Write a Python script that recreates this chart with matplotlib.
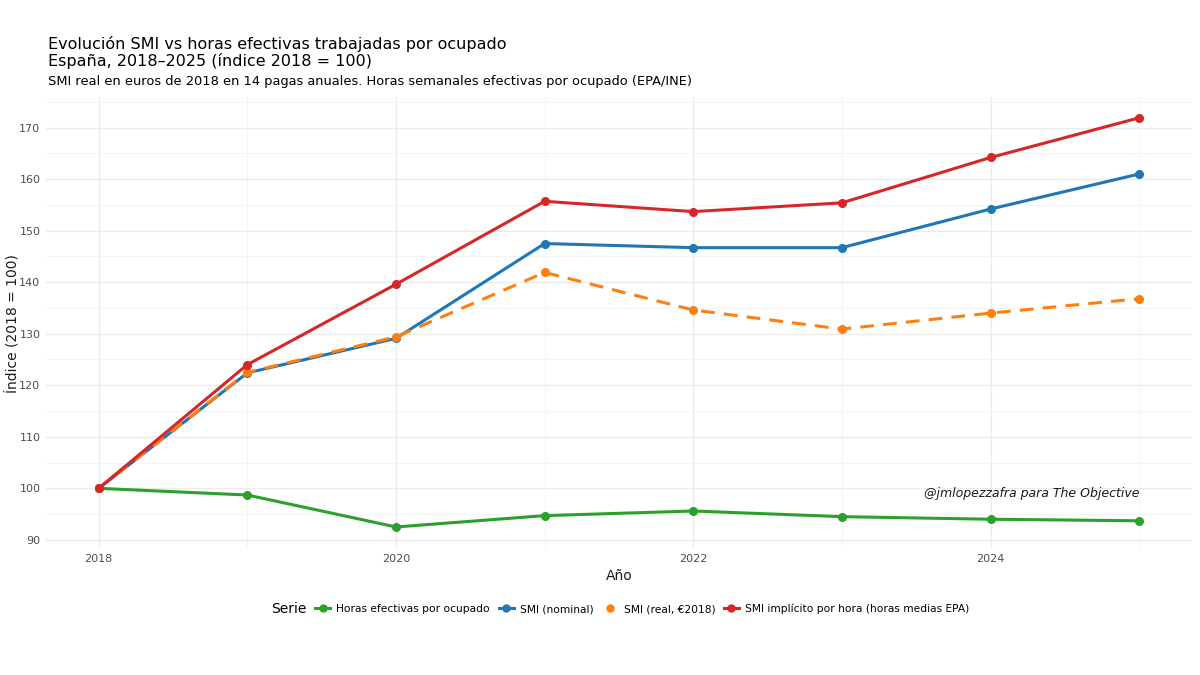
import matplotlib
matplotlib.use('Agg')
import matplotlib.pyplot as plt
from matplotlib.lines import Line2D
from matplotlib.offsetbox import HPacker

years = [2018, 2019, 2020, 2021, 2022, 2023, 2024, 2025]
horas = [100.0, 98.7, 92.5, 94.7, 95.6, 94.5, 94.0, 93.7]
smi_nominal = [100.0, 122.4, 129.1, 147.5, 146.7, 146.7, 154.2, 161.0]
smi_real = [100.0, 122.5, 129.4, 141.9, 134.6, 130.9, 134.0, 136.8]
smi_hora = [100.0, 124.0, 139.6, 155.7, 153.7, 155.4, 164.2, 171.9]

labels = ['Horas efectivas por ocupado', 'SMI (nominal)', 'SMI (real, €2018)',
          'SMI implícito por hora (horas medias EPA)']
colors = ['#2ca02c', '#1f77b4', '#ff7f0e', '#d62728']
styles = ['-', '-', '--', '-']

plt.rcParams['font.family'] = ['DejaVu Sans']

fig = plt.figure(figsize=(12, 6.75), dpi=100)
ax = fig.add_axes([0.0383, 0.188, 0.955, 0.668])

series = [horas, smi_nominal, smi_real, smi_hora]
for vals, col, ls in zip(series, colors, styles):
    line, = ax.plot(years, vals, color=col, lw=2.2, ls=ls, marker='o', ms=5.5,
                    solid_capstyle='butt')
    if ls == '--':
        line.set_dashes((4.5, 3))

ax.set_xlim(2017.645, 2025.355)
ax.set_ylim(88.4, 175.9)
ax.set_xticks([2018, 2020, 2022, 2024])
ax.set_xticks([2019, 2021, 2023, 2025], minor=True)
ax.set_yticks(range(90, 171, 10))
ax.set_yticks(range(95, 176, 10), minor=True)
ax.grid(True, which='major', color='#ebebeb', lw=1.0)
ax.grid(True, which='minor', color='#f2f2f2', lw=0.6)
ax.set_axisbelow(True)
for s in ax.spines.values():
    s.set_visible(False)
ax.tick_params(which='both', length=0, labelsize=8, labelcolor='#4d4d4d', pad=4)

ax.set_xlabel('Año', fontsize=10, color='#1a1a1a', labelpad=4)
fig.text(0.010, 0.52, 'Índice (2018 = 100)', fontsize=10, color='#1a1a1a',
         rotation=90, ha='center', va='center')

ax.text(2025, 99, '@jmlopezzafra para The Objective', ha='right', va='center',
        fontsize=9, style='italic', color='#1a1a1a')

fig.text(0.040, 0.947, 'Evolución SMI vs horas efectivas trabajadas por ocupado\n'
         'España, 2018–2025 (índice 2018 = 100)', fontsize=11.5, va='top',
         ha='left', linespacing=1.1, color='black')
fig.text(0.040, 0.879, 'SMI real en euros de 2018 en 14 pagas anuales. '
         'Horas semanales efectivas por ocupado (EPA/INE)', fontsize=9.4,
         va='center', ha='left', color='black')

handles = [Line2D([0], [0], color=c, lw=2.2, ls='-', marker='o', ms=5)
           for c in colors]
handles[2] = Line2D([0], [0], color=colors[2], lw=0, marker='o', ms=5)
leg = fig.legend(handles, labels, loc='center', bbox_to_anchor=(0.517, 0.098),
                 ncol=4, frameon=False, fontsize=7.7, handlelength=1.4,
                 columnspacing=0.8, handletextpad=0.6, title='Serie',
                 title_fontsize=10)
# put the legend title to the left of the entries
title_box = leg._legend_title_box
entries = leg._legend_handle_box
leg._legend_box._children = [HPacker(children=[title_box, entries],
                                     align='center', pad=0, sep=6)]

fig.savefig('out.png', dpi=100, facecolor='white')
